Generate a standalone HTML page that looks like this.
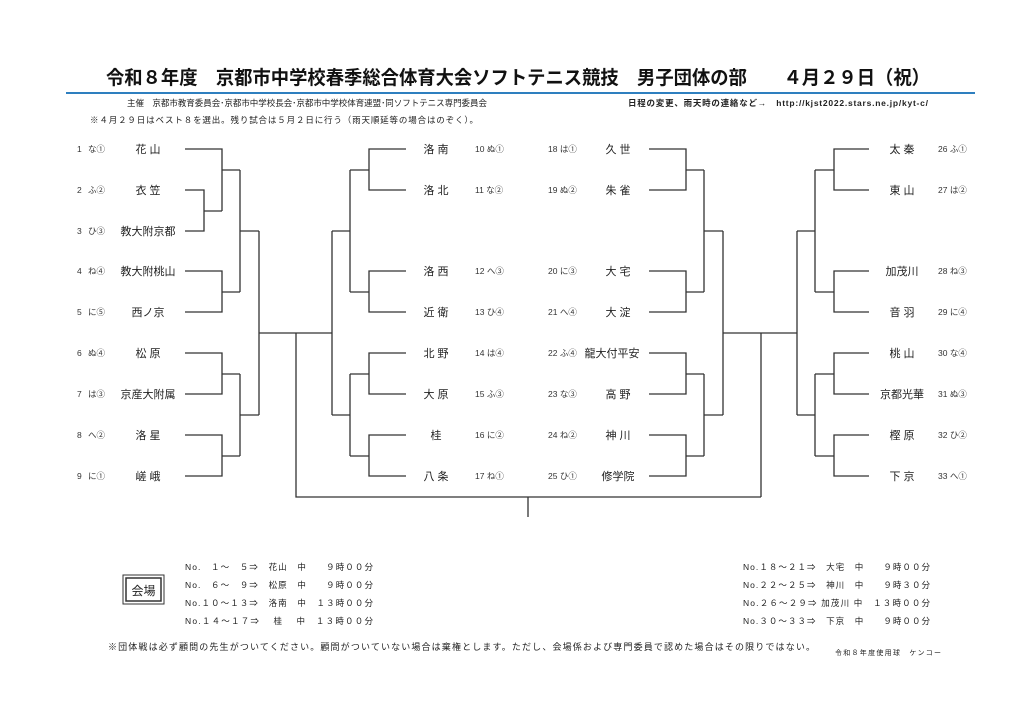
<!DOCTYPE html>
<html><head><meta charset="utf-8"><style>
html,body{margin:0;padding:0;background:#fff;}
svg{display:block;font-family:"Liberation Sans","Noto Sans CJK JP",sans-serif;}
</style></head><body>
<svg width="1024" height="724" viewBox="0 0 1024 724" xmlns="http://www.w3.org/2000/svg">
<rect width="1024" height="724" fill="#fff"/>
<text x="106" y="84" font-size="19" font-weight="bold" fill="#111" textLength="824" lengthAdjust="spacingAndGlyphs">令和８年度　京都市中学校春季総合体育大会ソフトテニス競技　男子団体の部　　４月２９日（祝）</text>
<line x1="66" y1="93" x2="975" y2="93" stroke="#2e7fbf" stroke-width="2"/>
<text x="127" y="106" font-size="8.5" fill="#222" textLength="360">主催　京都市教育委員会･京都市中学校長会･京都市中学校体育連盟･同ソフトテニス専門委員会</text>
<text x="628" y="106" font-size="8.5" font-weight="bold" fill="#222" textLength="300">日程の変更、雨天時の連絡など→　http://kjst2022.stars.ne.jp/kyt-c/</text>
<text x="90" y="123" font-size="8.5" fill="#222" textLength="388">※４月２９日はベスト８を選出。残り試合は５月２日に行う（雨天順延等の場合はのぞく）。</text>

<g stroke="#333" stroke-width="1.3" fill="none">
<path d="M185 149H222V211M185 190H204V231H185M204 211H222M222 170H240M185 271H222V312H185M222 292H240M240 170V292M240 231H259"/>
<path d="M185 353H222V394H185M222 374H240M185 435H222V476H185M222 456H240M240 374V456M240 415H259M259 231V415M259 333H332"/>
<path d="M406 149H369V190H406M369 170H350M406 271H369V312H406M369 292H350M350 170V292M350 231H332"/>
<path d="M406 353H369V394H406M369 374H350M406 435H369V476H406M369 456H350M350 374V456M350 415H332M332 231V415"/>
<path d="M296 333V497H761M528 497V517"/>
<path d="M649 149H686V190H649M686 170H704M649 271H686V312H649M686 292H704M704 170V292M704 231H723"/>
<path d="M649 353H686V394H649M686 374H704M649 435H686V476H649M686 456H704M704 374V456M704 415H723M723 231V415M723 333H797M761 333V497"/>
<path d="M869 149H834V190H869M834 170H815M869 271H834V312H869M834 292H815M815 170V292M815 231H797"/>
<path d="M869 353H834V394H869M834 374H815M869 435H834V476H869M834 456H815M815 374V456M815 415H797M797 231V415"/>
</g>

<g font-size="8.5" fill="#333">
<text x="77" y="152">1</text><text x="88" y="152">な①</text>
<text x="77" y="193">2</text><text x="88" y="193">ふ②</text>
<text x="77" y="234">3</text><text x="88" y="234">ひ③</text>
<text x="77" y="274">4</text><text x="88" y="274">ね④</text>
<text x="77" y="315">5</text><text x="88" y="315">に⑤</text>
<text x="77" y="356">6</text><text x="88" y="356">ぬ④</text>
<text x="77" y="397">7</text><text x="88" y="397">は③</text>
<text x="77" y="438">8</text><text x="88" y="438">へ②</text>
<text x="77" y="479">9</text><text x="88" y="479">に①</text>

<text x="475" y="152">10 ぬ①</text><text x="475" y="193">11 な②</text>
<text x="475" y="274">12 へ③</text><text x="475" y="315">13 ひ④</text>
<text x="475" y="356">14 は④</text><text x="475" y="397">15 ふ③</text>
<text x="475" y="438">16 に②</text><text x="475" y="479">17 ね①</text>

<text x="548" y="152">18 は①</text><text x="548" y="193">19 ぬ②</text>
<text x="548" y="274">20 に③</text><text x="548" y="315">21 へ④</text>
<text x="548" y="356">22 ふ④</text><text x="548" y="397">23 な③</text>
<text x="548" y="438">24 ね②</text><text x="548" y="479">25 ひ①</text>

<text x="938" y="152">26 ふ①</text><text x="938" y="193">27 は②</text>
<text x="938" y="274">28 ね③</text><text x="938" y="315">29 に④</text>
<text x="938" y="356">30 な④</text><text x="938" y="397">31 ぬ③</text>
<text x="938" y="438">32 ひ②</text><text x="938" y="479">33 へ①</text>
</g>

<g font-size="11" fill="#222" text-anchor="middle" xml:space="preserve">
<text x="148" y="153">花  山</text><text x="148" y="194">衣  笠</text><text x="148" y="235">教大附京都</text>
<text x="148" y="275">教大附桃山</text><text x="148" y="316">西ノ京</text><text x="148" y="357">松  原</text>
<text x="148" y="398">京産大附属</text><text x="148" y="439">洛  星</text><text x="148" y="480">嵯  峨</text>

<text x="436" y="153">洛  南</text><text x="436" y="194">洛  北</text><text x="436" y="275">洛  西</text>
<text x="436" y="316">近  衛</text><text x="436" y="357">北  野</text><text x="436" y="398">大  原</text>
<text x="436" y="439">桂</text><text x="436" y="480">八  条</text>

<text x="618" y="153">久  世</text><text x="618" y="194">朱  雀</text><text x="618" y="275">大  宅</text>
<text x="618" y="316">大  淀</text><text x="612" y="357">龍大付平安</text><text x="618" y="398">高  野</text>
<text x="618" y="439">神  川</text><text x="618" y="480">修学院</text>

<text x="902" y="153">太  秦</text><text x="902" y="194">東  山</text><text x="902" y="275">加茂川</text>
<text x="902" y="316">音  羽</text><text x="902" y="357">桃  山</text><text x="902" y="398">京都光華</text>
<text x="902" y="439">樫  原</text><text x="902" y="480">下  京</text>
</g>

<rect x="123" y="575" width="41" height="29" fill="none" stroke="#333" stroke-width="1"/>
<rect x="126" y="578" width="35" height="23" fill="none" stroke="#333" stroke-width="1.5"/>
<text x="143.5" y="595" font-size="12" text-anchor="middle" fill="#222">会場</text>

<g font-size="8.5" fill="#222" xml:space="preserve">
<text x="185" y="570" textLength="188">No.　１～　５⇒　花山　中　　９時００分</text>
<text x="185" y="588" textLength="188">No.　６～　９⇒　松原　中　　９時００分</text>
<text x="185" y="606" textLength="188">No.１０～１３⇒　洛南　中　１３時００分</text>
<text x="185" y="624" textLength="188">No.１４～１７⇒　 桂 　中　１３時００分</text>
<text x="743" y="570" textLength="187">No.１８～２１⇒　大宅　中　　９時００分</text>
<text x="743" y="588" textLength="187">No.２２～２５⇒　神川　中　　９時３０分</text>
<text x="743" y="606" textLength="187">No.２６～２９⇒ 加茂川 中　１３時００分</text>
<text x="743" y="624" textLength="187">No.３０～３３⇒　下京　中　　９時００分</text>
</g>
<text x="108" y="650" font-size="9" fill="#222" textLength="707">※団体戦は必ず顧問の先生がついてください。顧問がついていない場合は棄権とします。ただし、会場係および専門委員で認めた場合はその限りではない。</text>
<text x="835" y="655" font-size="7" fill="#222" textLength="106">令和８年度使用球　ケンコー</text>
</svg>
</body></html>
